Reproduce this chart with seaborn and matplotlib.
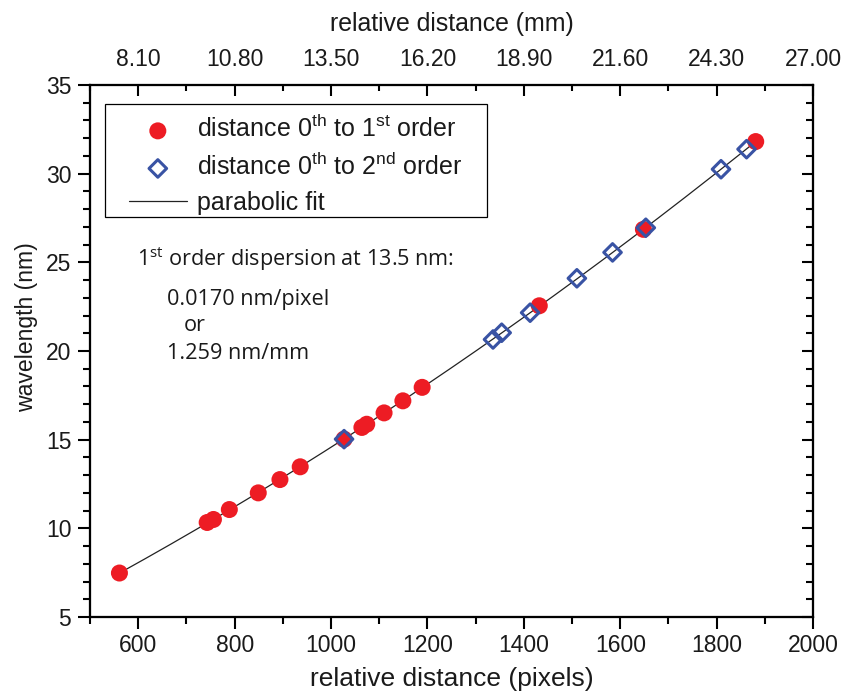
import numpy as np
import pandas as pd
import matplotlib
matplotlib.use("Agg")
import matplotlib.pyplot as plt
from matplotlib.ticker import FixedLocator, MultipleLocator, NullFormatter
from matplotlib.patches import Rectangle
import seaborn as sns

# Measured positions (pixels) and wavelengths (nm)
first_px = [561, 743, 756, 789, 849, 894, 936, 1027, 1064, 1074, 1110, 1149, 1189, 1432, 1648, 1881]
first_nm = [7.48, 10.33, 10.50, 11.06, 12.00, 12.75, 13.47, 15.03, 15.69, 15.87, 16.51, 17.19, 17.95, 22.55, 26.86, 31.81]
second_px = [1027, 1336, 1354, 1413, 1510, 1584, 1653, 1809, 1862]
second_nm = [15.03, 20.65, 21.03, 22.16, 24.10, 25.56, 26.95, 30.25, 31.38]

x_major = [600, 800, 1000, 1200, 1400, 1600, 1800, 2000]
x_minor = [500, 700, 900, 1100, 1300, 1500, 1700, 1900]
y_major = [5, 10, 15, 20, 25, 30, 35]
top_labels = ["8.10", "10.80", "13.50", "16.20", "18.90", "21.60", "24.30", "27.00"]

RED = "#ED1C24"
BLUE = "#3953A4"
INK = "#1a1a1a"

sns.set_theme(style="ticks")
plt.rcParams["font.family"] = ["Liberation Sans", "DejaVu Sans"]
plt.rcParams["mathtext.fontset"] = "custom"
plt.rcParams["mathtext.rm"] = "Liberation Sans"
for key in ("text.color", "axes.labelcolor", "xtick.color", "ytick.color",
            "xtick.labelcolor", "ytick.labelcolor"):
    plt.rcParams[key] = INK

df1 = pd.DataFrame({"px": first_px, "nm": first_nm})
df2 = pd.DataFrame({"px": second_px, "nm": second_nm})

# parabolic fit through both data sets
all_px = np.array(first_px + second_px, dtype=float)
all_nm = np.array(first_nm + second_nm, dtype=float)
coef = np.polyfit(all_px, all_nm, 2)
fit_x = np.linspace(all_px.min(), all_px.max(), 300)
fit_df = pd.DataFrame({"px": fit_x, "nm": np.polyval(coef, fit_x)})

fig = plt.figure(figsize=(8.43, 6.99), dpi=100)
ax = fig.add_axes([0.1068, 0.1173, 0.8577, 0.7611])

lab1 = "distance 0$^{\\mathregular{th}}$ to 1$^{\\mathregular{st}}$ order"
lab2 = "distance 0$^{\\mathregular{th}}$ to 2$^{\\mathregular{nd}}$ order"
sns.lineplot(data=fit_df, x="px", y="nm", ax=ax, color="#222222", lw=0.9,
             label="parabolic fit", zorder=2)
sns.scatterplot(data=df1, x="px", y="nm", ax=ax, color=RED, s=150, marker="o",
                edgecolor="none", linewidth=0, zorder=3, label=lab1)
sns.scatterplot(data=df2, x="px", y="nm", ax=ax, marker="D", s=80,
                facecolor="none", edgecolor=BLUE, linewidth=2.2, zorder=4, label=lab2)

ax.set_xlim(500, 2000)
ax.set_ylim(5, 35)
ax.xaxis.set_major_locator(FixedLocator(x_major))
ax.xaxis.set_minor_locator(FixedLocator(x_minor))
ax.yaxis.set_major_locator(FixedLocator(y_major))
ax.yaxis.set_minor_locator(MultipleLocator(1))

tick_size = 16.5
ax.set_xticklabels([str(v) for v in x_major], fontsize=tick_size)
ax.set_yticklabels([str(v) for v in y_major], fontsize=tick_size)

for s in ax.spines.values():
    s.set_visible(True)
    s.set_linewidth(1.5)
    s.set_color("black")

ax.tick_params(axis="both", which="major", direction="out", length=8.5, width=1.5,
               color="black")
ax.tick_params(axis="both", which="minor", direction="out", length=5, width=1.5,
               color="black")
ax.tick_params(axis="x", which="major", pad=4)
ax.tick_params(axis="y", which="major", pad=5)

ax.set_xlabel("relative distance (pixels)", fontsize=19, labelpad=7)
ax.set_ylabel("wavelength (nm)", fontsize=16.6)
ax.yaxis.set_label_coords(-0.072, 0.545)

# right-hand ticks pointing inward
right = ax.twinx()
right.set_ylim(ax.get_ylim())
right.yaxis.set_major_locator(FixedLocator(y_major))
right.yaxis.set_minor_locator(MultipleLocator(1))
right.yaxis.set_major_formatter(NullFormatter())
right.tick_params(axis="y", which="major", direction="in", length=8, width=1.5, color="black")
right.tick_params(axis="y", which="minor", direction="in", length=5, width=1.5, color="black")
right.grid(False)

# top axis in millimetres
top = ax.twiny()
top.set_xlim(ax.get_xlim())
top.xaxis.set_major_locator(FixedLocator(x_major))
top.xaxis.set_minor_locator(FixedLocator(x_minor))
top.set_xticklabels(top_labels, fontsize=tick_size)
top.tick_params(axis="x", which="major", direction="in", length=8, width=1.5, pad=10,
                color="black")
top.tick_params(axis="x", which="minor", direction="in", length=4.5, width=1.5,
                color="black")
top.set_xlabel("relative distance (mm)", fontsize=17.9, labelpad=12)
for a in (top, right):
    for s in a.spines.values():
        s.set_linewidth(1.5)
        s.set_color("black")

# legend: markers first, fit line last, inside a plain frame
h, l = ax.get_legend_handles_labels()
order = [l.index(lab1), l.index(lab2), l.index("parabolic fit")]
leg = ax.legend([h[i] for i in order], [l[i] for i in order],
                loc="upper left", bbox_to_anchor=(0.054, 0.943), borderaxespad=0,
                fontsize=18, frameon=False, handlelength=2.3, handletextpad=0.42,
                borderpad=0, labelspacing=0.42)
for t in leg.get_texts():
    t.set_color(INK)
ax.add_patch(Rectangle((0.0207, 0.752), 0.528, 0.212, transform=ax.transAxes,
                       fill=False, edgecolor="black", lw=0.9, zorder=5))

note_font = ["Open Sans", "DejaVu Sans"]
note_size = 15.6
ax.text(0.065, 0.672, "1$^{\\mathregular{st}}$ order dispersion at 13.5 nm:",
        transform=ax.transAxes, fontsize=note_size, family=note_font, va="center", ha="left")
ax.text(0.1065, 0.597, "0.0170 nm/pixel", transform=ax.transAxes, fontsize=note_size,
        family=note_font, va="center", ha="left")
ax.text(0.129, 0.548, "or", transform=ax.transAxes, fontsize=note_size,
        family=note_font, va="center", ha="left")
ax.text(0.1065, 0.495, "1.259 nm/mm", transform=ax.transAxes, fontsize=note_size,
        family=note_font, va="center", ha="left")

fig.savefig("out.png", dpi=100)
